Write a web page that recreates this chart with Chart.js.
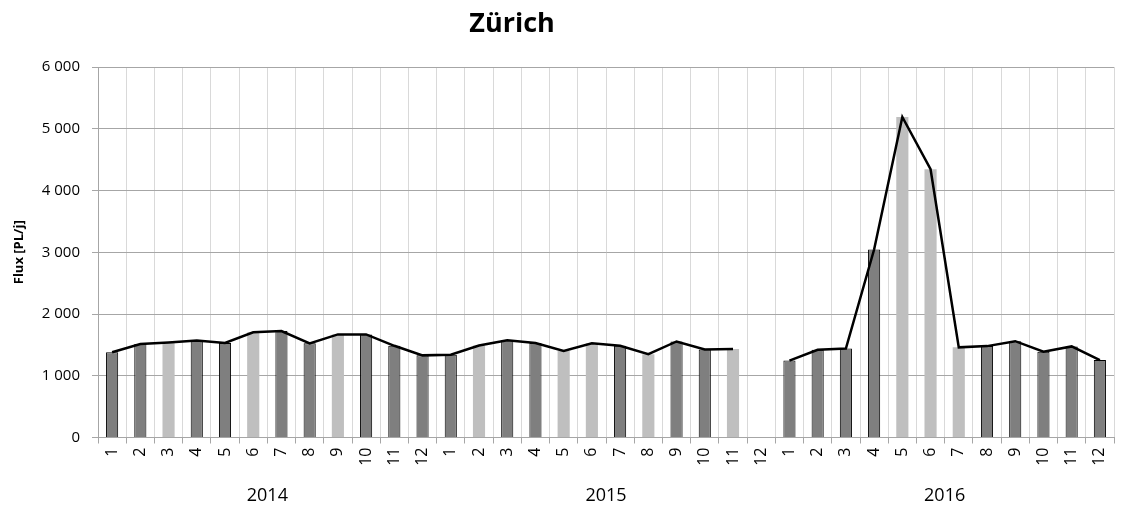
<!DOCTYPE html>
<html>
<head>
<meta charset="utf-8">
<title>Zürich</title>
<script src="https://cdn.jsdelivr.net/npm/chart.js@4.4.1/dist/chart.umd.min.js"></script>
<style>
  body { margin: 0; background: #fff; }
  canvas { display: block; }
</style>
</head>
<body>
<canvas id="fluxChart" width="1131" height="512"></canvas>
<script>
// Mois et années (axe X à deux niveaux)
const monthLabels = ['1', '2', '3', '4', '5', '6', '7', '8', '9', '10', '11', '12'];
const years = ['2014', '2015', '2016'];
const categories = [].concat(monthLabels, monthLabels, monthLabels);

// Flux mensuel [PL/j], null = pas de donnée
const flux = [
    1380, 1515, 1540, 1570, 1530, 1705, 1725, 1525, 1670, 1670, 1485, 1330, // 2014
    1340, 1490, 1575, 1530, 1400, 1525, 1485, 1350, 1555, 1425, 1435, null, // 2015
    1245, 1420, 1440, 3045, 5190, 4345, 1460, 1480, 1560, 1390, 1475, 1255  // 2016
];

// 1 = valeur estimée (barre claire), 0 = valeur mesurée (barre foncée)
const estimated = [
    0, 0, 1, 0, 0, 1, 0, 0, 1, 0, 0, 0,
    0, 1, 0, 0, 1, 1, 0, 1, 0, 0, 1, 0,
    0, 0, 0, 0, 1, 1, 1, 0, 0, 0, 0, 0
];

const yTicks = [0, 1000, 2000, 3000, 4000, 5000, 6000];

const FONT = "'Open Sans', sans-serif";

// Titre dessiné à la main (décalé par rapport au centre du canvas)
const titlePlugin = {
    id: 'titreZurich',
    afterDraw(chart) {
        const c = chart.ctx;
        c.save();
        c.font = "bold 27px " + FONT;
        c.fillStyle = '#000';
        c.textAlign = 'center';
        c.textBaseline = 'middle';
        c.fillText('Zürich', 512, 24);
        c.restore();
    }
};

const ctx = document.getElementById('fluxChart').getContext('2d');
const fluxChart = new Chart(ctx, {
    data: {
        labels: categories,
        datasets: [{
            type: 'line',
            data: flux,
            borderColor: '#000',
            borderWidth: 2.5,
            pointRadius: 0,
            tension: 0,
            fill: false,
            order: 0
        }, {
            type: 'bar',
            data: flux,
            backgroundColor: estimated.map(e => e ? '#bfbfbf' : '#7f7f7f'),
            borderColor: '#000',
            borderWidth: estimated.map(e => e ? 0 : 1),
            barPercentage: 0.43,
            categoryPercentage: 1,
            order: 1
        }]
    },
    options: {
        responsive: false,
        animation: false,
        layout: {
            padding: { top: 67, right: 17, left: 0, bottom: 0 }
        },
        plugins: {
            legend: { display: false },
            tooltip: { enabled: false },
            title: { display: false }
        },
        scales: {
            x: {
                grid: {
                    color: '#d9d9d9',
                    tickColor: '#a6a6a6',
                    tickLength: 6
                },
                border: { color: '#a6a6a6' },
                ticks: {
                    color: '#000',
                    font: { family: FONT, size: 16 },
                    minRotation: 90,
                    maxRotation: 90,
                    padding: 4,
                    autoSkip: false
                },
                afterFit(scale) { scale.height = 38; }
            },
            years: {
                type: 'category',
                labels: years,
                position: 'bottom',
                offset: true,
                grid: { display: false },
                border: { display: false },
                ticks: {
                    color: '#000',
                    font: { family: FONT, size: 18 },
                    padding: 2
                },
                afterFit(scale) { scale.height = 36.5; }
            },
            y: {
                min: 0,
                max: 6000,
                afterBuildTicks(scale) {
                    scale.ticks = yTicks.map(v => ({ value: v }));
                },
                grid: {
                    color: '#a6a6a6',
                    tickLength: 6
                },
                border: { color: '#a6a6a6' },
                ticks: {
                    color: '#000',
                    font: { family: FONT, size: 15 },
                    padding: 12,
                    callback: v => String(v).replace(/\B(?=(\d{3})+(?!\d))/g, ' ')
                },
                title: {
                    display: true,
                    text: 'Flux [PL/j]',
                    color: '#000',
                    font: { family: FONT, size: 13, weight: 'bold' },
                    padding: { top: 11, bottom: 0 }
                },
                afterFit(scale) { scale.width = 98; }
            }
        }
    },
    plugins: [titlePlugin]
});
</script>
</body>
</html>
